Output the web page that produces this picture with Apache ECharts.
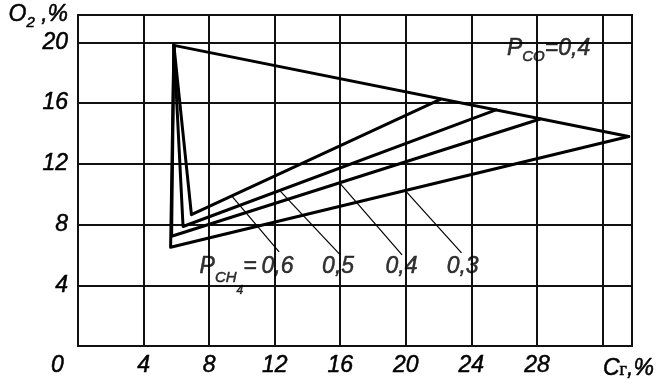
<!DOCTYPE html>
<html><head><meta charset="utf-8">
<script src="https://cdn.jsdelivr.net/npm/echarts@6/dist/echarts.min.js"></script>
<style>html,body{margin:0;padding:0;background:#fff}#c{width:661px;height:388px}</style>
</head><body><div id="c"></div>
<script>
// ---- data ----
const xTicks = [0, 4, 8, 12, 16, 20, 24, 28];
const yTicks = [4, 8, 12, 16, 20];
const startPoint = [5.85, 19.8];
const envelopeEnd = [33.6, 13.8];
const pCH4 = ['0,6', '0,5', '0,4', '0,3'];
const cornerX = [6.92, 6.41, 5.71, 5.65];
const cornerY = [8.65, 7.87, 7.23, 6.5];
const endX = [22.1, 25.5, 28.2, 33.6];
const endY = [16.25, 15.55, 14.95, 13.8];
const leaderFromX = [9.4, 12.34, 16.0, 20.0];
const leaderFromY = [9.85, 10.2, 10.7, 10.2];
const leaderToX = [12.27, 16.0, 19.77, 23.4];
const leaderToY = [6.2, 6.0, 6.0, 6.13];
const labelX = [12.2, 15.9, 19.77, 23.5];
const labelY = [5.2, 5.2, 5.2, 5.2];
const pchAnchor = [7.45, 5.96];
const pcoAnchor = [26.2, 20.32];
const pcoValue = '0,4';

// ---- styles ----
const FONT = "'Liberation Sans', Arial, sans-serif";
const INK = '#000';
const bold = { textBorderColor: '#000', textBorderWidth: 0.5 };
function ts(size, extra) {
  return Object.assign({ fontSize: size, lineHeight: size, fontStyle: 'italic', fontFamily: FONT, color: INK, verticalAlign: 'top' }, bold, extra || {});
}
const main = ts(23);

const series = [];
series.push({
  type: 'line', data: [startPoint, envelopeEnd], symbol: 'none', silent: true,
  lineStyle: { color: '#000', width: 3, join: 'round', cap: 'round' }
});
pCH4.forEach((p, i) => {
  series.push({
    type: 'line', name: 'P=' + p, symbol: 'none', silent: true,
    data: [startPoint, [cornerX[i], cornerY[i]], [endX[i], endY[i]]],
    lineStyle: { color: '#000', width: 3, join: 'round', cap: 'round' }
  });
  series.push({
    type: 'line', symbol: 'none', silent: true,
    data: [[leaderFromX[i], leaderFromY[i]], [leaderToX[i], leaderToY[i]]],
    lineStyle: { color: '#000', width: 1.2 }
  });
});

const annData = [];
pCH4.forEach((p, i) => {
  annData.push({ value: [labelX[i], labelY[i]],
    label: { formatter: '{p|' + p + '}', align: 'center', verticalAlign: 'middle' } });
});
annData.push({ value: pchAnchor,
  label: { formatter: '{p|P}{s|CH}{u|4}{p|=}', align: 'left', verticalAlign: 'top' } });
annData.push({ value: pcoAnchor,
  label: { formatter: '{p|P}{c|CO}{p|=' + pcoValue + '}', align: 'left', verticalAlign: 'top' } });

series.push({
  type: 'scatter', symbolSize: 1, silent: true, z: 5,
  itemStyle: { color: 'rgba(0,0,0,0)' },
  data: annData,
  label: {
    show: true, position: [0, 0], color: INK,
    rich: {
      p: ts(23),
      s: ts(15, { padding: [15, 0, 0, 0] }),
      u: ts(12, { padding: [30, 0, 0, 0] }),
      c: ts(15, { padding: [12, 0, 0, 0] })
    }
  }
});

const option = {
  animation: false,
  backgroundColor: '#fff',
  grid: { left: 78, right: 29, top: 15, bottom: 42, show: true, borderColor: '#111', borderWidth: 2 },
  xAxis: {
    type: 'value', min: 0, max: 33.8, interval: 4,
    name: '{c|C}{g|г}{c|,%}', nameLocation: 'end', nameGap: -29,
    nameTextStyle: {
      align: 'left', verticalAlign: 'top', padding: [11, 0, 0, 0],
      rich: {
        c: main,
        g: Object.assign({ fontSize: 18, lineHeight: 18, fontFamily: "'Liberation Serif', serif", color: INK, verticalAlign: 'top', padding: [4, 0, 0, 0] }, bold)
      }
    },
    axisLine: { show: false }, axisTick: { show: false },
    axisLabel: Object.assign({
      margin: 8, fontSize: 23, fontStyle: 'italic', fontFamily: FONT, color: INK,
      showMaxLabel: false,
      formatter: v => v === 0 ? '{z|0}' : (xTicks.indexOf(v) >= 0 ? String(v) : ''),
      rich: { z: Object.assign({ fontSize: 23, fontStyle: 'italic', fontFamily: FONT, color: INK, padding: [0, 41, 0, 0] }, bold) }
    }, bold),
    splitLine: { show: true, lineStyle: { color: '#111', width: 2 } }
  },
  yAxis: {
    type: 'value', min: 0, max: 21.8, interval: 4,
    name: '{o|O}{s|2}{o| ,%}', nameLocation: 'end', nameGap: 8,
    nameTextStyle: {
      align: 'right', verticalAlign: 'top', padding: [0, 10, 0, 0],
      rich: {
        o: main,
        s: ts(15, { padding: [12, 0, 0, 0] })
      }
    },
    axisLine: { show: false }, axisTick: { show: false },
    axisLabel: Object.assign({
      margin: 10, fontSize: 23, fontStyle: 'italic', fontFamily: FONT, color: INK,
      showMaxLabel: false,
      formatter: v => (yTicks.indexOf(v) >= 0 ? String(v) : '')
    }, bold),
    splitLine: { show: true, lineStyle: { color: '#111', width: 2 } }
  },
  series: series
};
const chart = echarts.init(document.getElementById('c'), null, { renderer: 'canvas' });
chart.setOption(option);
</script></body></html>
